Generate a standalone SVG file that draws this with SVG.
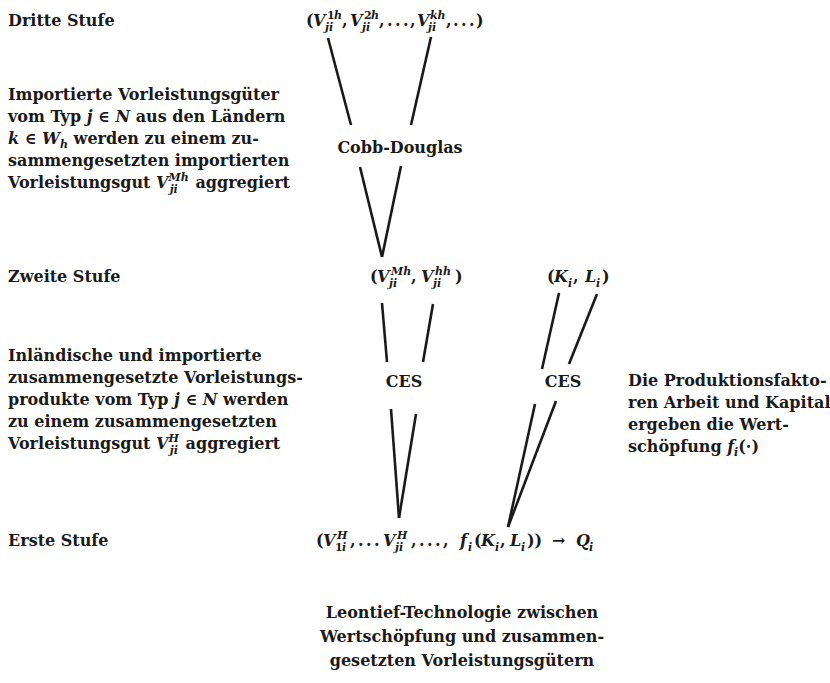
<svg xmlns="http://www.w3.org/2000/svg" width="830" height="683" viewBox="0 0 830 683">
<style>
text{font-family:"DejaVu Serif","Liberation Serif",serif;font-weight:bold;font-size:16px;fill:#1a1a1a}
.mi{font-style:italic}
.s{font-size:11px;font-style:italic}
.sn{font-size:11px;font-style:normal}
.c{text-anchor:middle}
.conn line{stroke:#1a1a1a;stroke-width:2.6;stroke-linecap:butt}
</style>
<rect width="830" height="683" fill="#ffffff"/>

<g id="label-dritte-stufe"><text x="8" y="26">Dritte Stufe</text></g>
<g id="label-zweite-stufe"><text x="8" y="282">Zweite Stufe</text></g>
<g id="label-erste-stufe"><text x="8" y="546">Erste Stufe</text></g>

<g id="desc-importierte">
<text x="8" y="100">Importierte Vorleistungsgüter</text>
<text x="8" y="122">vom Typ <tspan class="mi">j</tspan> ∈ <tspan class="mi">N</tspan> aus den Ländern</text>
<text x="8" y="144"><tspan class="mi">k</tspan> ∈ <tspan class="mi">W</tspan><tspan class="s" dy="4">h</tspan><tspan dy="-4"> werden zu einem zu-</tspan></text>
<text x="8" y="166">sammengesetzten importierten</text>
<text x="8" y="188">Vorleistungsgut <tspan class="mi">V</tspan><tspan class="s" dy="-7">Mh</tspan><tspan class="s" dx="-19" dy="12">ji</tspan><tspan dx="12" dy="-5"> aggregiert</tspan></text>
</g>

<g id="desc-inlaendische">
<text x="8" y="361">Inländische und importierte</text>
<text x="8" y="383">zusammengesetzte Vorleistungs-</text>
<text x="8" y="405">produkte vom Typ <tspan class="mi">j</tspan> ∈ <tspan class="mi">N</tspan> werden</text>
<text x="8" y="427">zu einem zusammengesetzten</text>
<text x="8" y="449">Vorleistungsgut <tspan class="mi">V</tspan><tspan class="s" dy="-7">H</tspan><tspan class="s" dx="-9" dy="12">ji</tspan><tspan dx="2" dy="-5"> aggregiert</tspan></text>
</g>

<g id="desc-produktionsfaktoren">
<text x="628" y="386">Die Produktionsfakto-</text>
<text x="628" y="408">ren Arbeit und Kapital</text>
<text x="628" y="430">ergeben die Wert-</text>
<text x="628" y="452">schöpfung <tspan class="mi">f</tspan><tspan class="s" dy="4">i</tspan><tspan dy="-4">(·)</tspan></text>
</g>

<g id="desc-leontief">
<text class="c" x="462" y="618">Leontief-Technologie zwischen</text>
<text class="c" x="462" y="642">Wertschöpfung und zusammen-</text>
<text class="c" x="462" y="666">gesetzten Vorleistungsgütern</text>
</g>

<g id="node-imports">
<text><tspan x="306" y="26">(</tspan><tspan class="mi" x="313" y="26">V</tspan><tspan class="sn" x="327" y="19">1</tspan><tspan class="s" x="334" y="19">h</tspan><tspan class="s" x="325" y="31">ji</tspan><tspan x="342" y="26">,</tspan><tspan class="mi" x="350" y="26">V</tspan><tspan class="sn" x="364" y="19">2</tspan><tspan class="s" x="371" y="19">h</tspan><tspan class="s" x="362" y="31">ji</tspan><tspan x="379" y="26">,</tspan><tspan x="387 395 403" y="26">...</tspan><tspan x="410" y="26">,</tspan><tspan class="mi" x="417" y="26">V</tspan><tspan class="s" x="430" y="19">kh</tspan><tspan class="s" x="428" y="31">ji</tspan><tspan x="446" y="26">,</tspan><tspan x="453 461 469" y="26">...</tspan><tspan x="476" y="26">)</tspan></text>
</g>

<g id="node-cobb-douglas"><text class="c" x="400" y="153">Cobb-Douglas</text></g>

<g id="node-vmh-vhh">
<text><tspan x="370" y="282">(</tspan><tspan class="mi" x="377" y="282">V</tspan><tspan class="s" x="391" y="275">Mh</tspan><tspan class="s" x="389" y="287">ji</tspan><tspan x="411" y="282">,</tspan><tspan class="mi" x="421" y="282">V</tspan><tspan class="s" x="435" y="275">hh</tspan><tspan class="s" x="433" y="287">ji</tspan><tspan x="455" y="282">)</tspan></text>
</g>

<g id="node-k-l">
<text><tspan x="547" y="282">(</tspan><tspan class="mi" x="554" y="282">K</tspan><tspan class="s" x="568" y="287">i</tspan><tspan x="573" y="282">,</tspan><tspan class="mi" x="585" y="282">L</tspan><tspan class="s" x="596" y="287">i</tspan><tspan x="602" y="282">)</tspan></text>
</g>

<g id="node-ces-left"><text class="c" x="404" y="387">CES</text></g>
<g id="node-ces-right"><text class="c" x="563" y="387">CES</text></g>

<g id="node-output">
<text><tspan x="316" y="546">(</tspan><tspan class="mi" x="323" y="546">V</tspan><tspan class="s" x="337" y="539">H</tspan><tspan class="sn" x="335" y="551">1</tspan><tspan class="s" x="342" y="551">i</tspan><tspan x="350" y="546">,</tspan><tspan x="358 366 374" y="546">...</tspan><tspan class="mi" x="383" y="546">V</tspan><tspan class="s" x="397" y="539">H</tspan><tspan class="s" x="395" y="551">ji</tspan><tspan x="411" y="546">,</tspan><tspan x="419 427 435" y="546">...</tspan><tspan x="443" y="546">,</tspan><tspan class="mi" x="460" y="546">f</tspan><tspan class="s" x="468" y="551">i</tspan><tspan x="474" y="546">(</tspan><tspan class="mi" x="481" y="546">K</tspan><tspan class="s" x="495" y="551">i</tspan><tspan x="500" y="546">,</tspan><tspan class="mi" x="510" y="546">L</tspan><tspan class="s" x="521" y="551">i</tspan><tspan x="527" y="546">))</tspan><tspan x="552" y="546">→</tspan><tspan class="mi" x="576" y="546">Q</tspan><tspan class="s" x="589" y="551">i</tspan></text>
</g>

<g id="connectors" class="conn">
<line x1="328" y1="38" x2="351" y2="125"/>
<line x1="431" y1="37" x2="411" y2="125"/>
<line x1="360" y1="167" x2="382" y2="257"/>
<line x1="401" y1="166" x2="382" y2="257"/>
<line x1="382" y1="303" x2="387" y2="362"/>
<line x1="433" y1="304" x2="423" y2="362"/>
<line x1="559" y1="293" x2="542" y2="369"/>
<line x1="597" y1="294" x2="569" y2="364"/>
<line x1="391" y1="409" x2="399" y2="518"/>
<line x1="416" y1="414" x2="399" y2="518"/>
<line x1="535" y1="404" x2="508" y2="527"/>
<line x1="556" y1="401" x2="508" y2="527"/>
</g>
</svg>
